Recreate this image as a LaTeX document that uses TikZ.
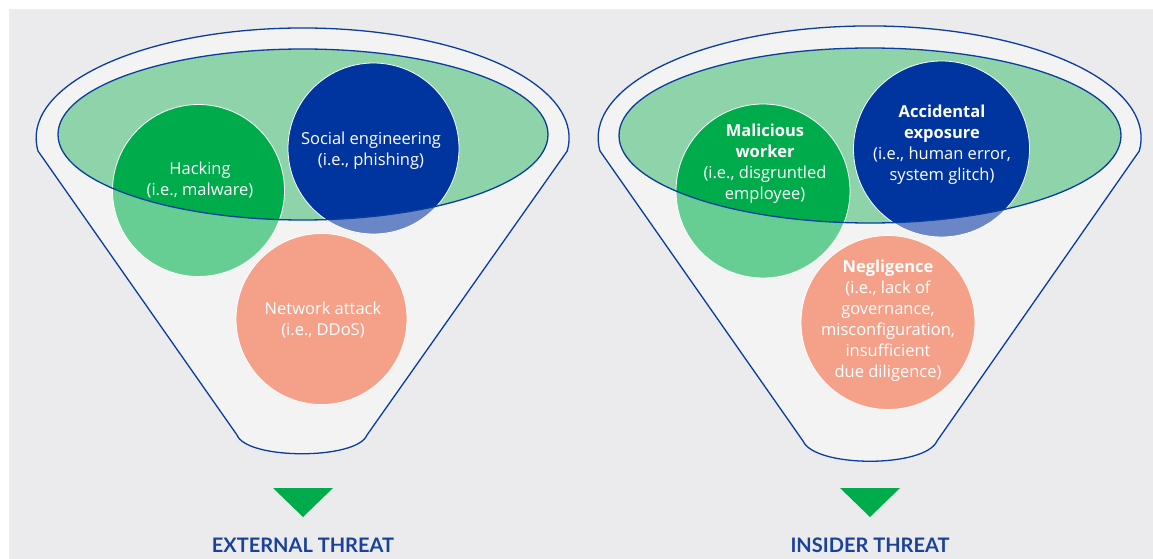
\documentclass[tikz,border=0pt]{standalone}
\usepackage{fontspec}
\setmainfont{Lato}
\newfontfamily\blobfont{Open Sans}
\usepackage{tikz}

\definecolor{bg}{HTML}{EBEBEE}
\definecolor{funnel}{HTML}{F3F3F4}
\definecolor{rimblue}{HTML}{0A3D9E}
\definecolor{ellgreen}{HTML}{8ED3AA}
\definecolor{darkgreen}{HTML}{00AB4B}
\definecolor{lightgreen}{HTML}{66CE93}
\definecolor{darkblue}{HTML}{0035A0}
\definecolor{lightblue}{HTML}{6A86C6}
\definecolor{salmon}{HTML}{F5A189}
\definecolor{titleblue}{HTML}{1A429B}

\begin{document}
\begin{tikzpicture}[
		x=1pt, y=-1pt,
		every node/.style={text=white, align=center, font=\blobfont\fontsize{16.5}{21}\selectfont},
		rim/.style={draw=rimblue, line width=1.3pt},
		ring/.style={draw=white, line width=0.8pt},
		title/.style={text=titleblue, anchor=base, font=\rmfamily\fontsize{20}{24}\selectfont\bfseries}
	]
  \useasboundingbox (0,0) rectangle (1153,559);
  \fill[white] (0,0) rectangle (1153,559);
  \fill[bg] (9,9) rectangle (1153,559);

  \coordinate (e_ext) at (303,134.5);
  \coordinate (c_hack) at (198.5,190.5);
  \coordinate (c_social) at (373.5,148.5);
  \coordinate (c_net) at (321.5,319);
  \coordinate (e_ins) at (870,135.5);
  \coordinate (c_mal) at (763,191);
  \coordinate (c_acc) at (941.5,149);
  \coordinate (c_neg) at (888,322.5);

  % funnels
  \draw[rim, fill=funnel] (237,435) -- (38,151) arc[start angle=173.2, end angle=366.8, x radius=266.5, y radius=110]
    -- (367,435) .. controls (357,460) and (247,460) .. cycle;
  \draw[rim, fill=funnel] (803,441) -- (600,151) arc[start angle=173.3, end angle=366.7, x radius=271.5, y radius=112]
    -- (937,441) .. controls (925,468) and (815,468) .. cycle;
  \fill[ellgreen] (e_ext) ellipse[x radius=245, y radius=85.5];
  \fill[ellgreen] (e_ins) ellipse[x radius=251, y radius=87.5];

  % circles, pale outside the rim
  \fill[lightgreen] (c_hack) circle[radius=86];
  \fill[lightblue] (c_social) circle[radius=85.5];
  \fill[salmon] (c_net) circle[radius=85.5];
  \fill[lightgreen] (c_mal) circle[radius=87];
  \fill[lightblue] (c_acc) circle[radius=88];
  \fill[salmon] (c_neg) circle[radius=87];
  \begin{scope}
    \clip (e_ext) ellipse[x radius=245, y radius=85.5];
    \fill[darkgreen] (c_hack) circle[radius=86];
    \fill[darkblue] (c_social) circle[radius=85.5];
  \end{scope}
  \begin{scope}
    \clip (e_ins) ellipse[x radius=251, y radius=87.5];
    \fill[darkgreen] (c_mal) circle[radius=87];
    \fill[darkblue] (c_acc) circle[radius=88];
  \end{scope}
  \draw[ring] (c_hack) circle[radius=86] (c_social) circle[radius=85.5] (c_net) circle[radius=85.5];
  \draw[ring] (c_mal) circle[radius=87] (c_acc) circle[radius=88] (c_neg) circle[radius=87];
  \draw[rim] (e_ext) ellipse[x radius=245, y radius=85.5];
  \draw[rim] (e_ins) ellipse[x radius=251, y radius=87.5];

  \node (t_hack) at (200,180) {Hacking\\(i.e., malware)};
  \node (t_social) at (371,151) {Social engineering\\(i.e., phishing)};
  \node (t_net) at (323,320) {Network attack\\(i.e., DDoS)};
  \node (t_mal) at (765,163.5) {\textbf{Malicious}\\\textbf{worker}\\(i.e., disgruntled\\employee)};
  \node (t_acc) at (942,144.5) {\textbf{Accidental}\\\textbf{exposure}\\(i.e., human error,\\system glitch)};
  \node (t_neg) at (888,320.5) {\textbf{Negligence}\\(i.e., lack of\\governance,\\misconfiguration,\\insufficient\\due diligence)};

  % arrows and titles
  \fill[darkgreen] (273,488) -- (333,488) -- (303,517) -- cycle;
  \fill[darkgreen] (840,488) -- (900,488) -- (870,517) -- cycle;
  \node[title] (l_ext) at (303,552) {EXTERNAL THREAT};
  \node[title] (l_ins) at (870,552) {INSIDER THREAT};
\end{tikzpicture}
\end{document}
